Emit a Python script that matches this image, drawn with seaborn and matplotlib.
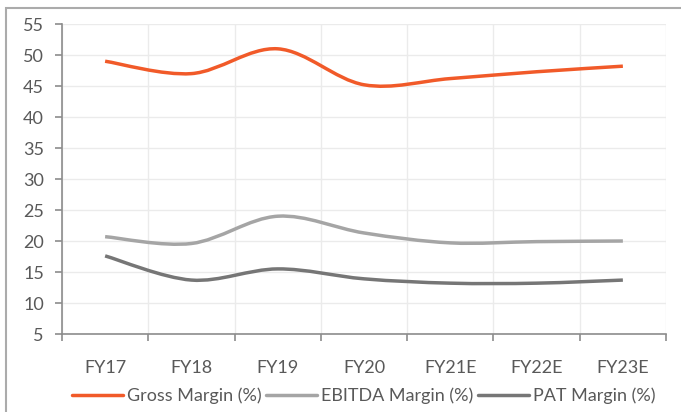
import numpy as np
import pandas as pd
import seaborn as sns
import matplotlib.pyplot as plt
from matplotlib.path import Path
from matplotlib.patches import PathPatch, Rectangle
from matplotlib.lines import Line2D

years = ["FY17", "FY18", "FY19", "FY20", "FY21E", "FY22E", "FY23E"]
gross_margin = [49.0, 47.0, 51.0, 45.2, 46.2, 47.3, 48.2]
ebitda_margin = [20.7, 19.6, 24.0, 21.3, 19.7, 19.9, 20.0]
pat_margin = [17.6, 13.7, 15.5, 13.9, 13.2, 13.2, 13.7]

series_names = ["Gross Margin (%)", "EBITDA Margin (%)", "PAT Margin (%)"]
colors = ["#F15A29", "#A5A5A5", "#767676"]

df = pd.DataFrame({
    "year": years * 3,
    "value": gross_margin + ebitda_margin + pat_margin,
    "series": np.repeat(series_names, len(years)),
})

sns.set_theme(style="white")
plt.rcParams["font.family"] = ["Lato", "DejaVu Sans"]

fig = plt.figure(figsize=(6.81, 4.12), dpi=100)
ax = fig.add_axes([0.091, 0.1893, 0.887, 0.7524])

sns.lineplot(data=df, x="year", y="value", hue="series", palette=colors,
             sort=False, legend=False, linewidth=2.5, ax=ax)


def smooth_path(xy):
    # Excel-like smoothed line: Catmull-Rom converted to cubic Bezier
    pts = np.vstack([xy[0], xy, xy[-1]])
    verts = [xy[0]]
    codes = [Path.MOVETO]
    for i in range(1, len(pts) - 2):
        p0, p1, p2, p3 = pts[i - 1], pts[i], pts[i + 1], pts[i + 2]
        verts += [p1 + (p2 - p0) / 6, p2 - (p3 - p1) / 6, p2]
        codes += [Path.CURVE4] * 3
    return Path(verts, codes)


for line, c in zip(list(ax.lines), colors):
    xy = line.get_xydata()
    ax.add_patch(PathPatch(smooth_path(xy), facecolor="none", edgecolor=c,
                           lw=2.5, capstyle="butt", joinstyle="round"))
    line.set_visible(False)

ax.set_xlim(-0.5, len(years) - 0.5)
ax.set_ylim(5, 55)
ax.set_yticks(range(5, 56, 5))
ax.set_xticks(np.arange(len(years)))
ax.set_xticklabels(years)
ax.set_xticks(np.arange(-0.5, len(years)), minor=True)
ax.set_xlabel("")
ax.set_ylabel("")

ax.grid(True, axis="y", color="#EBEBEB", lw=1)
ax.grid(True, axis="x", which="minor", color="#EBEBEB", lw=1)
ax.set_axisbelow(True)

for s in ["top", "right"]:
    ax.spines[s].set_visible(False)
for s in ["left", "bottom"]:
    ax.spines[s].set_color("#8C8C8C")
    ax.spines[s].set_linewidth(1.2)

ax.tick_params(axis="y", which="major", left=True, length=5, width=1.2,
               color="#8C8C8C", labelsize=13, labelcolor="#595959", pad=8)
ax.tick_params(axis="x", which="major", bottom=False, labelsize=13,
               labelcolor="#595959", pad=13)
ax.tick_params(axis="x", which="minor", bottom=True, length=5, width=1.2,
               color="#8C8C8C")

handles = [Line2D([], [], color=c, lw=2.5) for c in colors]
ax.legend(handles, series_names, loc="center", bbox_to_anchor=(0.5, -0.2),
          ncol=3, frameon=False, fontsize=13, labelcolor="#595959",
          handlelength=2.8, handletextpad=0.25, columnspacing=0.25)

fig.patches.append(Rectangle((6 / 681, -0.1), 1.2, 1 - 8 / 412 + 0.1,
                             transform=fig.transFigure, fill=False,
                             edgecolor="#ABABAB", lw=1.5))

fig.savefig("out.png", dpi=100)
